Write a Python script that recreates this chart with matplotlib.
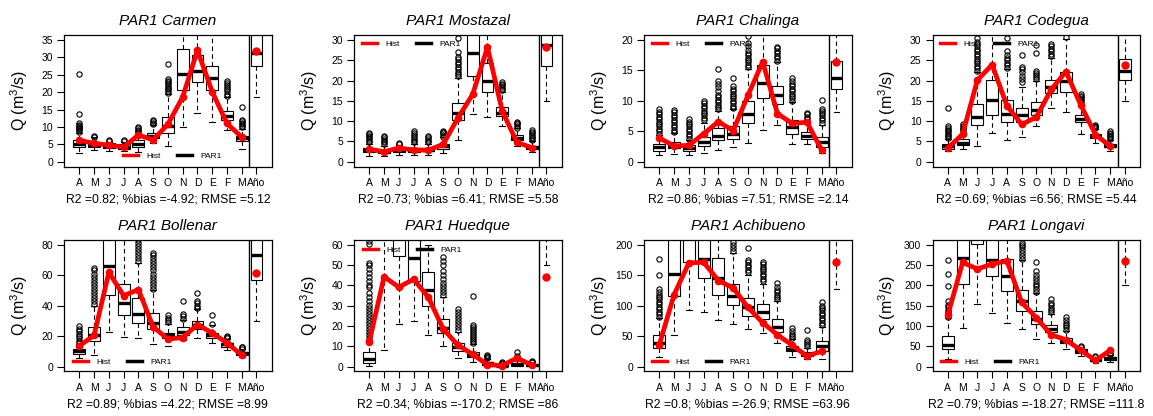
import matplotlib
matplotlib.use("Agg")
import matplotlib.pyplot as plt
from matplotlib.lines import Line2D

plt.rcParams['font.family'] = ['Liberation Sans', 'DejaVu Sans']
plt.rcParams['mathtext.fontset'] = 'custom'
plt.rcParams['mathtext.rm'] = 'Liberation Sans'

months = ['A', 'M', 'J', 'J', 'A', 'S', 'O', 'N', 'D', 'E', 'F', 'M', 'Año']

# box stats per month + year: (whisker low, q1, median, q3, whisker high)
carmen_box = [(2.6, 4.3, 5.1, 6.2, 8.3), (3.5, 4.2, 4.9, 5.8, 7.0), (3.2, 4.0, 4.6, 5.3, 5.8),
              (3.0, 3.7, 4.3, 5.0, 5.6), (2.9, 4.3, 5.0, 6.3, 8.0), (5.5, 6.8, 7.5, 8.2, 10.5),
              (4.5, 8.3, 10.2, 13.0, 19.5), (10.0, 20.5, 25.2, 32.5, 45.0), (14.0, 22.8, 26.1, 30.7, 45.0),
              (11.5, 20.7, 24.1, 27.4, 45.0), (9.0, 11.9, 13.2, 14.5, 18.5), (3.7, 6.1, 6.8, 7.5, 9.5),
              (18.5, 27.5, 31.3, 38.0, 45.0)]
carmen_out = [[8.6, 9.0, 9.3, 9.6, 9.9, 10.2, 10.6, 11.0, 13.6, 25.3], [7.2, 7.5], [6.0, 6.3], [5.9, 6.2],
              [8.4, 8.8, 9.2, 9.6, 9.9], [10.8, 11.2, 11.6, 11.9],
              [19.8, 20.3, 20.8, 21.3, 21.8, 22.3, 22.8, 23.3, 23.8, 28.1], [], [], [],
              [19.0, 19.6, 20.2, 20.8, 21.4, 22.0, 22.6, 23.1], [10.0, 10.4, 10.8, 11.2, 11.6, 12.0, 15.6], []]
carmen_hist = [6.2, 5.3, 4.8, 4.2, 7.7, 6.3, 10.8, 18.6, 32.0, 20.1, 11.0, 7.1]
carmen_anio = 31.8

mostazal_box = [(1.5, 2.5, 2.9, 3.3, 4.5), (1.5, 2.2, 2.6, 3.0, 4.0), (1.7, 2.4, 2.9, 3.4, 4.2),
                (1.7, 2.4, 2.8, 3.3, 4.5), (1.8, 2.6, 3.0, 3.4, 4.5), (2.2, 3.2, 3.8, 4.4, 6.0),
                (5.3, 10.2, 11.9, 14.5, 20.5), (11.8, 21.0, 26.8, 33.0, 45.0), (11.0, 17.2, 20.0, 24.2, 40.0),
                (8.8, 11.2, 12.1, 13.5, 17.3), (3.8, 5.4, 5.9, 6.5, 8.2), (2.3, 3.2, 3.6, 4.0, 5.2),
                (15.0, 23.5, 28.7, 34.0, 45.0)]
mostazal_out = [[4.8, 5.2, 5.6, 6.0, 6.4, 6.8, 7.2], [4.4, 4.8, 5.2, 5.6, 6.0, 6.4], [4.4, 4.7],
                [4.8, 5.2, 5.6, 6.0, 6.6, 7.2, 7.6], [4.8, 5.2, 5.6, 6.0, 6.4], [6.2, 6.6, 7.0, 7.4, 7.7],
                [21.0, 21.6, 22.2, 22.8, 23.4, 24.0, 24.6, 25.2, 25.8, 27.0, 30.5], [], [],
                [17.6, 18.0, 18.4, 18.8, 19.2, 19.6], [8.4, 8.8, 9.2, 9.6, 9.9],
                [5.4, 5.8, 6.2, 6.6, 7.0, 7.4, 7.9], []]
mostazal_hist = [3.1, 2.5, 3.4, 2.9, 2.9, 4.3, 10.8, 16.6, 28.2, 12.5, 4.8, 3.5]
mostazal_anio = 28.2

chalinga_box = [(1.1, 1.8, 2.4, 2.9, 4.4), (1.3, 2.2, 2.6, 3.2, 4.7), (1.2, 1.8, 2.2, 2.7, 3.6),
                (1.4, 2.6, 3.2, 4.1, 6.3), (1.9, 3.6, 4.3, 5.5, 8.3), (2.4, 3.8, 4.6, 5.8, 8.6),
                (3.1, 6.3, 7.8, 10.0, 15.3), (5.2, 10.5, 12.9, 15.9, 25.0), (6.1, 9.5, 10.9, 12.4, 16.4),
                (2.9, 4.6, 5.7, 6.8, 9.8), (2.9, 3.8, 4.3, 4.9, 6.3), (1.4, 2.5, 3.3, 4.0, 6.1),
                (8.1, 12.0, 13.8, 16.6, 25.0)]
chalinga_out = [[4.6, 5.0, 5.4, 5.8, 6.2, 6.6, 7.0, 7.4, 7.8, 8.2, 8.6],
                [4.9, 5.3, 5.7, 6.1, 6.5, 6.9, 7.3, 7.7, 8.1, 8.5],
                [3.8, 4.2, 4.6, 5.0, 5.4, 5.8, 6.2, 6.6, 7.0],
                [6.8, 7.2, 7.6, 8.0, 8.4, 8.8, 9.2, 9.6, 10.0],
                [8.6, 9.0, 9.4, 9.8, 10.2, 10.6, 11.0, 11.6, 12.2, 12.8, 13.2, 15.2],
                [8.8, 9.2, 9.6, 10.0, 10.4, 10.8, 11.2, 11.6, 12.0, 12.4, 13.8],
                [15.5, 15.9, 16.3, 16.7, 17.1, 17.5, 17.9, 18.3, 19.0, 19.5, 20.6], [],
                [16.6, 17.0, 17.4, 17.8, 18.2, 18.6, 18.9],
                [10.0, 10.4, 10.8, 11.2, 11.6, 12.0, 12.4, 12.8, 13.2, 13.8],
                [6.6, 7.0, 7.4, 7.8, 8.0], [6.4, 6.8, 7.2, 7.6, 8.0, 8.4, 8.7, 10.2], []]
chalinga_hist = [3.9, 2.6, 2.7, 4.6, 6.6, 5.1, 10.9, 16.4, 7.9, 6.3, 6.5, 1.9]
chalinga_anio = 16.4

codegua_box = [(2.6, 3.2, 3.8, 4.4, 5.7), (3.1, 4.1, 4.7, 5.5, 7.2), (3.9, 9.1, 11.1, 14.3, 22.0),
               (7.0, 11.6, 15.2, 20.2, 40.0), (5.3, 9.9, 11.8, 15.1, 22.8), (6.1, 9.9, 11.4, 13.3, 18.3),
               (8.7, 11.4, 12.7, 14.8, 20.0), (13.2, 16.9, 18.5, 20.2, 25.5), (12.3, 17.3, 20.0, 22.2, 30.2),
               (6.9, 9.8, 10.6, 11.5, 14.3), (4.6, 5.9, 6.3, 6.8, 8.0), (2.7, 3.6, 4.0, 4.3, 5.3),
               (15.0, 20.2, 22.3, 25.3, 40.0)]
codegua_out = [[5.9, 6.3, 6.7, 7.1, 7.5, 7.9, 8.3, 8.7, 13.2], [7.6, 8.0, 8.4, 8.8, 9.2],
               [22.4, 23.0, 23.6, 24.2, 24.8, 25.4, 26.0, 26.6, 27.2, 27.8, 28.4, 29.0, 29.6, 30.4], [],
               [23.2, 23.8, 24.4, 25.0, 25.6, 26.4, 27.2, 30.5], [19.6, 20.4, 21.2, 22.0, 22.8, 23.4, 26.4],
               [20.3, 20.8, 21.3, 21.8, 22.4, 26.8, 28.7], [26.0, 26.6, 27.2, 27.8, 28.4, 29.0], [30.6],
               [14.7, 15.1, 15.5, 15.9, 16.3, 16.7], [8.3, 8.6, 8.9, 9.1], [5.6, 6.0, 6.4, 6.8, 7.2, 7.7], []]
codegua_hist = [3.4, 6.8, 20.1, 23.9, 13.8, 9.2, 11.0, 17.8, 22.2, 14.0, 6.7, 3.8]
codegua_anio = 23.8

bollenar_box = [(5.8, 8.3, 10.0, 11.7, 15.0), (7.8, 16.5, 20.5, 26.0, 40.0), (22.5, 47.0, 66.0, 90.0, 120.0),
                (19.6, 34.0, 42.0, 54.0, 100.0), (19.0, 28.5, 34.5, 44.8, 68.0), (15.0, 24.5, 28.5, 35.3, 50.0),
                (13.5, 18.5, 20.5, 21.7, 28.0), (17.5, 20.6, 22.6, 25.7, 30.5), (18.8, 24.8, 27.0, 29.7, 37.5),
                (15.3, 18.5, 20.8, 22.3, 27.0), (10.6, 13.1, 14.5, 15.5, 18.0), (6.5, 7.7, 8.8, 9.5, 11.5),
                (30.0, 57.0, 73.0, 90.0, 120.0)]
bollenar_out = [[15.5, 17, 18.5, 20, 21.5, 23, 24.5, 26.5],
                [41, 43, 45, 47, 49, 51, 53, 55, 57, 59, 61, 63, 64.5], [], [],
                [69, 71, 73, 75, 77, 79, 81, 83],
                [51, 53, 55, 57, 59, 61, 63, 65, 67, 69, 71, 73, 74.5],
                [29, 30.5, 32, 33.5], [31.5, 33, 34.5, 43], [38.5, 40, 41.5, 43, 48], [28, 34],
                [18.7, 19.3, 19.8], [11.8, 12.5, 13], []]
bollenar_hist = [13.5, 20.5, 61.8, 46.5, 50.5, 26.0, 18.0, 19.0, 27.5, 22.0, 15.5, 7.5]
bollenar_anio = 61.5

huedque_box = [(0.2, 1.5, 3.5, 7.0, 13.0), (8.0, 65.0, 80.0, 100.0, 150.0), (21.0, 54.5, 70.0, 80.0, 120.0),
               (22.5, 42.0, 53.5, 68.0, 110.0), (15.3, 30.0, 37.5, 46.5, 60.0), (10.3, 16.3, 18.8, 23.2, 34.0),
               (4.3, 7.8, 9.6, 11.6, 17.0), (2.1, 4.5, 5.8, 7.2, 11.0), (0.2, 0.9, 1.5, 2.2, 3.5),
               (0.0, 0.1, 0.3, 0.6, 1.0), (0.1, 0.5, 1.0, 1.8, 3.5), (0.05, 0.3, 0.6, 1.0, 1.8),
               (50.0, 75.0, 90.0, 110.0, 150.0)]
huedque_out = [[14, 15.5, 17, 18.5, 20, 21.5, 23, 24.5, 26, 27.5, 29, 30.5, 32, 34, 36, 39, 40, 42, 44,
                46, 48, 50, 51, 60.5, 62], [], [], [], [],
               [35, 36.5, 38, 39.5, 41, 43, 45, 47, 50, 52, 54],
               [18, 19.5, 21, 22.5, 24, 25.5, 27, 28.5],
               [11.5, 12.5, 13.5, 14.5, 15.5, 16.5, 17.5, 18.5, 19.5, 20.3, 34.5],
               [4, 4.5, 5, 5.5], [1.2, 1.5, 2], [4, 5, 7.3], [2.0, 2.4, 2.8], []]
huedque_hist = [12.3, 44.2, 39.0, 43.0, 34.0, 18.5, 10.5, 6.0, 0.9, 0.5, 4.2, 0.7]
huedque_anio = 44.0

achibueno_box = [(15, 31, 38.5, 51, 80), (52, 115, 152, 230, 300), (93, 171, 220, 280, 350),
                 (89, 145, 177, 240, 320), (77, 118, 145, 178, 230), (70, 101, 115, 136, 186),
                 (61, 83, 97, 112, 150), (55, 78, 90, 102, 135), (38, 56, 64, 78, 107),
                 (16, 25, 29, 34, 45), (12, 17, 20, 23, 30), (12, 26, 33, 42, 65),
                 (127, 230, 260, 290, 380)]
achibueno_out = [[82, 86, 90, 94, 98, 102, 106, 110, 114, 118, 122, 127, 150, 177], [], [], [], [],
                 [190, 195, 200, 205], [155, 159, 163, 167, 171, 175, 195],
                 [140, 144, 148, 152, 156, 160, 164, 168, 171], [110, 114, 118, 122, 126, 130, 137],
                 [46, 50, 54, 58, 63], [33, 37, 41, 44, 60],
                 [68, 72, 76, 80, 84, 88, 92, 96, 100, 106], []]
achibueno_hist = [36, 118, 170, 171, 141, 129, 97, 72, 52, 35, 17, 25]
achibueno_anio = 171

longavi_box = [(18, 43, 53, 75, 120), (95, 203, 267, 340, 450), (155, 302, 360, 420, 500),
               (132, 222, 262, 320, 450), (106, 185, 223, 264, 400), (92, 137, 160, 188, 262),
               (68, 105, 118, 136, 180), (58, 85, 92, 102, 130), (42, 57, 63, 71, 88),
               (25, 33, 37, 42, 47), (9, 14, 16, 19, 23), (12, 17, 20, 23, 28),
               (200, 330, 360, 390, 500)]
longavi_out = [[122, 128, 134, 140, 146, 152, 160, 197, 227, 262], [], [], [], [],
               [265, 272, 279, 286, 293, 300, 305], [183, 190, 197, 204, 211, 218, 225, 235, 258],
               [133, 139, 145, 151, 157, 165], [90, 96, 102, 108, 114, 122], [48, 50], [24, 27],
               [30, 33], []]
longavi_hist = [127, 256, 240, 252, 260, 158, 120, 78, 66, 40, 15, 40]
longavi_anio = 260

names = ['Carmen', 'Mostazal', 'Chalinga', 'Codegua', 'Bollenar', 'Huedque', 'Achibueno', 'Longavi']
boxes = [carmen_box, mostazal_box, chalinga_box, codegua_box, bollenar_box, huedque_box, achibueno_box, longavi_box]
outs = [carmen_out, mostazal_out, chalinga_out, codegua_out, bollenar_out, huedque_out, achibueno_out, longavi_out]
hists = [carmen_hist, mostazal_hist, chalinga_hist, codegua_hist, bollenar_hist, huedque_hist, achibueno_hist, longavi_hist]
anios = [carmen_anio, mostazal_anio, chalinga_anio, codegua_anio, bollenar_anio, huedque_anio, achibueno_anio, longavi_anio]
ymaxs = [35, 30, 20, 30, 80, 60, 200, 300]
ysteps = [5, 5, 5, 5, 20, 10, 50, 50]
metrics = ['R2 =0.82; %bias =-4.92; RMSE =5.12', 'R2 =0.73; %bias =6.41; RMSE =5.58',
           'R2 =0.86; %bias =7.51; RMSE =2.14', 'R2 =0.69; %bias =6.56; RMSE =5.44',
           'R2 =0.89; %bias =4.22; RMSE =8.99', 'R2 =0.34; %bias =-170.2; RMSE =86',
           'R2 =0.8; %bias =-26.9; RMSE =63.96', 'R2 =0.79; %bias =-18.27; RMSE =111.8']
legend_pos = [(0.284, 0.083), (0.039, 0.932), (0.039, 0.932), (0.036, 0.932),
              (0.043, 0.071), (0.043, 0.92), (0.039, 0.071), (0.041, 0.071)]

W, H = 1153, 416
fig = plt.figure(figsize=(W / 100, H / 100), dpi=100)
lefts = [64, 354, 644, 932.5]
tops = [35, 239.7]
aw, ah = 207.7, 131.7

for k in range(8):
    r, c = divmod(k, 4)
    ax = fig.add_axes([lefts[c] / W, (H - tops[r] - ah) / H, aw / W, ah / H])
    stats = [dict(whislo=b[0], q1=b[1], med=b[2], q3=b[3], whishi=b[4], fliers=o)
             for b, o in zip(boxes[k], outs[k])]
    ax.bxp(stats, positions=range(1, 14), widths=0.8, patch_artist=True, manage_ticks=False,
           boxprops=dict(facecolor='white', edgecolor='black', linewidth=0.8),
           whiskerprops=dict(linestyle=(0, (4, 3)), linewidth=0.8),
           capprops=dict(linewidth=0.8),
           medianprops=dict(color='black', linewidth=2.4, solid_capstyle='butt'),
           flierprops=dict(marker='o', markerfacecolor='none', markeredgecolor='black',
                           markersize=3.8, markeredgewidth=0.8))
    ax.plot(range(1, 13), hists[k], color='red', lw=3.4, marker='o', ms=4.5, zorder=5)
    ax.plot([13], [anios[k]], 'o', color='red', ms=5, zorder=5)
    ax.axvline(12.5, color='black', lw=1)

    ym = ymaxs[k]
    ax.set_xlim(-0.04, 14.03)
    ax.set_ylim(-0.04 * ym, 1.04 * ym)
    ax.set_yticks(range(0, ym + 1, ysteps[k]))
    ax.set_xticks(range(1, 14))
    ax.set_xticklabels(months, fontsize=7.5)
    ax.tick_params(axis='y', labelsize=7.5)
    ax.tick_params(direction='out', length=5, width=0.8, pad=3)
    for s in ax.spines.values():
        s.set_linewidth(0.9)

    ax.set_title('PAR1 ' + names[k], fontsize=11, style='italic', pad=7)
    ax.set_ylabel('Q (m$^3$/s)', fontsize=11.5)
    ax.yaxis.set_label_coords(-0.165, 0.5)
    ax.text(0.5, -33 / ah, metrics[k], transform=ax.transAxes, ha='center', va='center', fontsize=8.8)

    handles = [Line2D([], [], color='red', lw=2.5), Line2D([], [], color='black', lw=2.5)]
    ax.legend(handles, ['Hist', 'PAR1'], loc='center left', bbox_to_anchor=legend_pos[k], ncol=2,
              frameon=False, fontsize=6, handlelength=1.8, handletextpad=1.0, columnspacing=2.0,
              borderpad=0, borderaxespad=0)

fig.savefig('out.png', dpi=100)
plt.close(fig)
